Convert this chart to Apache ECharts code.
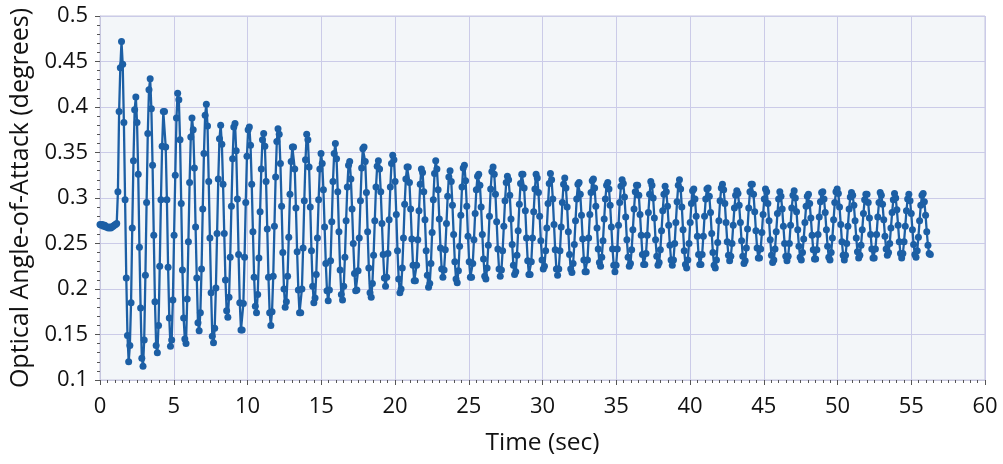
<!DOCTYPE html>
<html>
<head>
<meta charset="utf-8">
<script src="https://cdn.jsdelivr.net/npm/echarts@6/dist/echarts.min.js"></script>
<style>
html,body{margin:0;padding:0;background:#ffffff;}
#chart{width:1003px;height:464px;}
</style>
</head>
<body>
<div id="chart"></div>
<script>
// ---- data ----
const xTitle = 'Time (sec)';
const yTitle = 'Optical Angle-of-Attack (degrees)';
const startTimeSec = 0;
const sampleIntervalSec = 0.081;
// optical angle-of-attack samples, degrees, one per sample interval
const angleOfAttack = [
0.271,0.270,0.271,0.269,0.270,0.268,0.268,0.267,0.268,0.267,0.268,0.269,0.270,0.271,0.272,
0.307,0.395,0.443,0.472,0.447,0.383,0.298,0.212,0.149,0.120,0.138,0.185,0.267,0.341,0.397,
0.411,0.383,0.326,0.246,0.179,0.124,0.115,0.144,0.215,0.295,0.371,0.419,
0.431,0.398,0.336,0.259,0.186,0.138,0.130,0.160,0.225,0.298,0.357,0.395,
0.395,0.356,0.298,0.224,0.168,0.137,0.144,0.188,0.259,0.325,0.388,
0.415,0.408,0.364,0.294,0.221,0.168,0.145,0.140,0.189,0.252,0.317,0.367,
0.388,0.375,0.333,0.268,0.212,0.163,0.154,0.174,0.222,0.288,0.349,0.391,
0.403,0.379,0.318,0.256,0.196,0.148,0.141,0.157,0.201,0.261,0.321,0.365,
0.380,0.359,0.315,0.261,0.210,0.176,0.169,0.191,0.235,0.291,0.343,0.378,
0.382,0.352,0.299,0.238,0.185,0.155,0.155,0.184,0.235,0.295,0.346,0.375,
0.378,0.358,0.315,0.263,0.213,0.181,0.174,0.194,0.234,0.285,0.332,0.364,
0.371,0.357,0.318,0.266,0.213,0.174,0.160,0.175,0.214,0.269,0.323,0.362,
0.376,0.370,0.338,0.291,0.240,0.200,0.180,0.186,0.214,0.257,0.304,0.340,
0.356,0.356,0.332,0.289,0.241,0.199,0.174,0.174,0.200,0.245,0.297,0.342,
0.370,0.364,0.334,0.290,0.242,0.203,0.185,0.190,0.216,0.256,0.298,0.332,
0.349,0.338,0.309,0.268,0.228,0.198,0.187,0.199,0.231,0.274,0.318,0.349,
0.360,0.343,0.307,0.263,0.221,0.194,0.188,0.203,0.235,0.275,0.312,0.336,
0.340,0.321,0.288,0.250,0.217,0.198,0.199,0.220,0.256,0.297,0.333,0.354,
0.356,0.340,0.306,0.263,0.223,0.196,0.191,0.206,0.237,0.275,0.312,0.335,
0.341,0.332,0.307,0.272,0.238,0.212,0.203,0.213,0.239,0.276,0.312,0.338,
0.347,0.342,0.318,0.282,0.242,0.211,0.196,0.200,0.223,0.256,0.293,0.321,
0.334,0.334,0.317,0.288,0.255,0.226,0.209,0.209,0.226,0.254,0.286,0.315,
0.332,0.328,0.307,0.276,0.242,0.215,0.202,0.206,0.228,0.262,0.298,0.327,
0.341,0.332,0.309,0.277,0.245,0.222,0.213,0.221,0.243,0.272,0.302,0.323,
0.330,0.318,0.292,0.260,0.230,0.211,0.207,0.220,0.247,0.281,0.312,0.333,
0.336,0.319,0.291,0.258,0.230,0.213,0.213,0.228,0.254,0.283,0.309,0.324,
0.326,0.314,0.290,0.260,0.233,0.214,0.211,0.223,0.248,0.280,0.310,0.329,
0.334,0.326,0.304,0.274,0.244,0.222,0.214,0.221,0.242,0.269,0.297,0.317,
0.324,0.320,0.303,0.277,0.249,0.226,0.216,0.219,0.237,0.264,0.293,0.316,
0.326,0.326,0.311,0.286,0.256,0.231,0.216,0.216,0.230,0.256,0.285,0.310,
0.326,0.322,0.306,0.280,0.253,0.232,0.222,0.225,0.242,0.267,0.294,0.316,
0.327,0.320,0.299,0.271,0.243,0.222,0.215,0.222,0.242,0.268,0.295,0.315,
0.322,0.311,0.290,0.263,0.238,0.222,0.218,0.228,0.249,0.275,0.299,0.315,
0.317,0.304,0.281,0.255,0.232,0.219,0.219,0.232,0.256,0.282,0.306,0.319,
0.321,0.311,0.291,0.267,0.244,0.229,0.225,0.235,0.253,0.277,0.299,0.314,
0.317,0.310,0.292,0.268,0.244,0.226,0.219,0.226,0.244,0.270,0.295,0.313,
0.320,0.316,0.301,0.279,0.254,0.235,0.225,0.228,0.243,0.265,0.288,0.307,
0.314,0.314,0.303,0.282,0.259,0.238,0.227,0.227,0.239,0.259,0.284,0.304,
0.318,0.314,0.300,0.278,0.254,0.236,0.226,0.229,0.243,0.264,0.286,0.304,
0.313,0.307,0.291,0.270,0.248,0.232,0.226,0.232,0.250,0.273,0.296,0.314,
0.320,0.310,0.290,0.265,0.242,0.227,0.223,0.232,0.250,0.273,0.294,0.308,
0.310,0.299,0.280,0.258,0.238,0.227,0.227,0.238,0.258,0.280,0.299,0.310,
0.311,0.302,0.284,0.261,0.240,0.226,0.223,0.232,0.251,0.275,0.297,0.311,
0.315,0.309,0.294,0.273,0.252,0.237,0.231,0.236,0.250,0.270,0.289,0.303,
0.308,0.305,0.292,0.273,0.253,0.236,0.228,0.231,0.245,0.266,0.289,0.307,
0.315,0.315,0.304,0.285,0.264,0.245,0.234,0.234,0.244,0.262,0.282,0.299,
0.310,0.307,0.294,0.275,0.254,0.237,0.229,0.232,0.244,0.263,0.283,0.299,
0.307,0.302,0.288,0.269,0.250,0.236,0.231,0.236,0.250,0.270,0.289,0.303,
0.308,0.300,0.285,0.265,0.247,0.235,0.232,0.240,0.255,0.273,0.291,0.302,
0.304,0.294,0.278,0.259,0.243,0.233,0.233,0.243,0.260,0.279,0.296,0.306,
0.307,0.299,0.284,0.265,0.247,0.235,0.232,0.240,0.256,0.276,0.295,0.307,
0.310,0.305,0.290,0.271,0.252,0.237,0.232,0.237,0.250,0.269,0.288,0.301,
0.306,0.303,0.292,0.275,0.256,0.241,0.234,0.237,0.248,0.265,0.283,0.298,
0.304,0.304,0.295,0.278,0.260,0.244,0.234,0.234,0.244,0.260,0.279,0.295,
0.306,0.303,0.293,0.276,0.258,0.244,0.237,0.240,0.250,0.267,0.284,0.298,
0.305,0.300,0.287,0.270,0.252,0.239,0.234,0.239,0.252,0.269,0.286,0.299,
0.304,0.297,0.283,0.265,0.249,0.238,0.235,0.242,0.257,0.275,0.292,0.303,
0.305,0.296,0.281,0.263,0.248,0.239,0.238
];
const xRange = [0, 60];
const xStep = 5;
const yRange = [0.1, 0.5];
const yStep = 0.05;

// ---- chart ----
const seriesData = angleOfAttack.map((v, i) => [startTimeSec + i * sampleIntervalSec, v]);
const FONT = '"Open Sans", "Noto Sans", sans-serif';
const chart = echarts.init(document.getElementById('chart'), null, {renderer: 'canvas'});
chart.setOption({
  animation: false,
  backgroundColor: '#ffffff',
  grid: {
    left: 100, right: 18, top: 16, bottom: 84,
    show: true, backgroundColor: '#f3f6f9', borderColor: '#c6c6de', borderWidth: 1
  },
  xAxis: {
    type: 'value', min: xRange[0], max: xRange[1], interval: xStep,
    name: xTitle, nameLocation: 'middle', nameGap: 51,
    nameTextStyle: {fontFamily: FONT, fontSize: 24.5, color: '#111'},
    axisLine: {show: true, lineStyle: {color: '#c6c6de', width: 1}},
    axisTick: {show: true, length: 5, lineStyle: {color: '#555'}},
    minorTick: {show: true, splitNumber: 10, length: 3, lineStyle: {color: '#555'}},
    axisLabel: {fontFamily: FONT, fontSize: 22, color: '#111', margin: 16},
    splitLine: {show: true, lineStyle: {color: '#cbcbe8', width: 1}}
  },
  yAxis: {
    type: 'value', min: yRange[0], max: yRange[1], interval: yStep,
    name: yTitle, nameLocation: 'middle', nameGap: 66,
    nameTextStyle: {fontFamily: FONT, fontSize: 25, color: '#111'},
    axisLine: {show: true, lineStyle: {color: '#c6c6de', width: 1}},
    axisTick: {show: true, length: 5, lineStyle: {color: '#555'}},
    minorTick: {show: true, splitNumber: 5, length: 3, lineStyle: {color: '#555'}},
    axisLabel: {fontFamily: FONT, fontSize: 22, color: '#111', margin: 12},
    splitLine: {show: true, lineStyle: {color: '#cbcbe8', width: 1}}
  },
  series: [{
    type: 'line',
    data: seriesData,
    symbol: 'circle',
    symbolSize: 7,
    showSymbol: true,
    showAllSymbol: true,
    lineStyle: {color: '#1c5fa5', width: 2.3},
    itemStyle: {color: '#1c5fa5'},
    emphasis: {disabled: true}
  }]
});
</script>
</body>
</html>
